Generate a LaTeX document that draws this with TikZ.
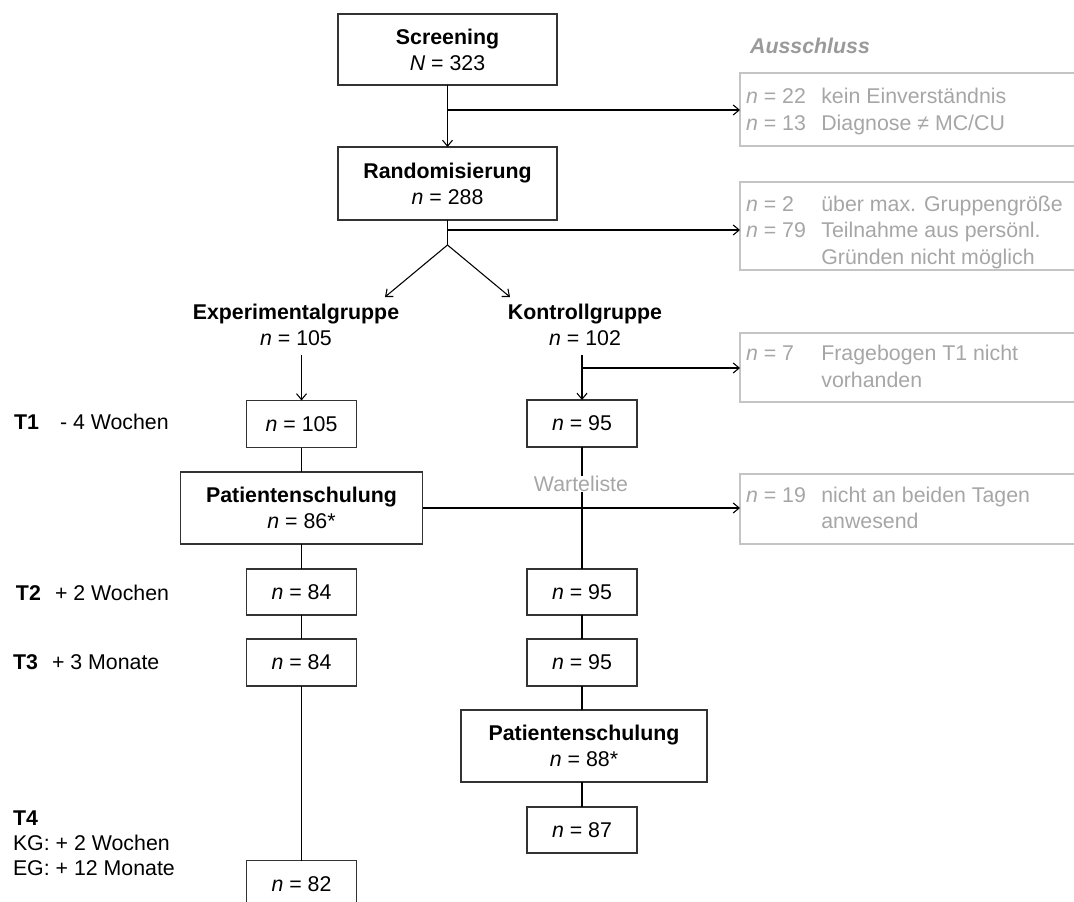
\documentclass[tikz,border=0pt]{standalone}
\usepackage{fontspec}
\setmainfont{Liberation Sans}
\usetikzlibrary{arrows.meta}
\definecolor{lgray}{HTML}{A6A6A6}
\definecolor{bgray}{HTML}{C4C4C4}
\definecolor{hgray}{HTML}{9A9A9A}
\begin{document}
\begin{tikzpicture}[x=0.75pt,y=-0.75pt,
  every node/.style={font=\fontsize{16pt}{19.5pt}\selectfont, inner sep=0pt, outer sep=0pt},
  box/.style={draw=black!80, line width=1pt, align=center, fill=white},
  xbox/.style={draw=bgray, line width=0.9pt, minimum width=255pt},
  xtext/.style={text=lgray, align=left, anchor=west, font=\fontsize{16pt}{20pt}\selectfont},
  grp/.style={align=center},
  tlab/.style={anchor=west},
  arr/.style={-{Straight Barb[length=4.5pt,width=7.5pt]}, line width=0.8pt},
  ln/.style={line width=0.8pt}]
\useasboundingbox (0,0) rectangle (1074,902);
\clip (0,0) rectangle (1074,902);

% main column boxes
\node[box, minimum width=164.25pt, minimum height=53.25pt] (scr) at (447.5,49.5) {\textbf{Screening}\\\textit{N} = 323};
\node[box, minimum width=164.25pt, minimum height=54.75pt] (rand) at (447.5,183.5) {\textbf{Randomisierung}\\\textit{n} = 288};

\node[grp] (exg) at (296,325) {\textbf{Experimentalgruppe}\\\textit{n} = 105};
\node[grp] (kg) at (585,325) {\textbf{Kontrollgruppe}\\\textit{n} = 102};

% experimental group
\node[box, minimum width=82.5pt, minimum height=35.25pt] (e1) at (301.5,424) {\textit{n} = 105};
\node[box, minimum width=181.5pt, minimum height=54pt] (p1) at (301.5,508) {\textbf{Patientenschulung}\\\textit{n} = 86*};
\node[box, minimum width=82.5pt, minimum height=34.5pt] (e2) at (301.5,592) {\textit{n} = 84};
\node[box, minimum width=82.5pt, minimum height=35.25pt] (e3) at (301.5,662.5) {\textit{n} = 84};
\node[box, minimum width=82.5pt, minimum height=35.25pt] (e4) at (301.5,884) {\textit{n} = 82};

% control group
\node[box, minimum width=82.5pt, minimum height=35.25pt] (k1) at (582,423.5) {\textit{n} = 95};
\node[text=lgray] (wl) at (581,484) {Warteliste};
\node[box, minimum width=82.5pt, minimum height=34.5pt] (k2) at (582,592) {\textit{n} = 95};
\node[box, minimum width=82.5pt, minimum height=35.25pt] (k3) at (582,662.5) {\textit{n} = 95};
\node[box, minimum width=184.5pt, minimum height=54pt] (kp) at (584,746) {\textbf{Patientenschulung}\\\textit{n} = 88*};
\node[box, minimum width=82.5pt, minimum height=34.5pt] (k4) at (582,830) {\textit{n} = 87};

% exclusions
\node[text=hgray] (aus) at (810,46) {\textbf{\textit{Ausschluss}}};
\node[xbox, minimum height=54.75pt] (x1) at (910,109.5) {};
\node[xbox, minimum height=66pt] (x2) at (910,226) {};
\node[xbox, minimum height=51.75pt] (x3) at (910,367.5) {};
\node[xbox, minimum height=52.5pt] (x4) at (910,509) {};

\node[xtext] (x1t) at (746,112) {\begin{tabular}{@{}p{56.5pt}@{}l@{}}\textit{n} = 22 & kein Einverständnis\\ \textit{n} = 13 & Diagnose ≠ MC/CU\end{tabular}};
\node[xtext] (x2t) at (746,232.5) {\begin{tabular}{@{}p{56.5pt}@{}l@{}}\textit{n} = 2 & über max. Gruppengröße\\ \textit{n} = 79 & Teilnahme aus persönl.\\ & Gründen nicht möglich\end{tabular}};
\node[xtext] (x3t) at (746,368.5) {\begin{tabular}{@{}p{56.5pt}@{}l@{}}\textit{n} = 7 & Fragebogen T1 nicht\\ & vorhanden\end{tabular}};
\node[xtext] (x4t) at (746,510) {\begin{tabular}{@{}p{56.5pt}@{}l@{}}\textit{n} = 19 & nicht an beiden Tagen\\ & anwesend\end{tabular}};

% time labels
\node[tlab] (t1a) at (14,422) {\textbf{T1}};
\node[tlab] (t1b) at (60,422) {- 4 Wochen};
\node[tlab] (t2a) at (16,593) {\textbf{T2}};
\node[tlab] (t2b) at (55,593) {+ 2 Wochen};
\node[tlab] (t3a) at (13,662) {\textbf{T3}};
\node[tlab] (t3b) at (52,662) {+ 3 Monate};
\node[tlab, align=left, font=\fontsize{16pt}{18.75pt}\selectfont] (t4) at (13,843) {\textbf{T4}\\KG: + 2 Wochen\\EG: + 12 Monate};

% connectors
\coordinate (b1) at (447.5,110);
\coordinate (b2) at (447.5,230);
\coordinate (sp) at (447.5,245);
\coordinate (ea) at (385,297);
\coordinate (ka) at (510,297);
\coordinate (es) at (301.5,355);
\coordinate (ks) at (582,355);
\coordinate (kb) at (582,368);

\draw[arr] (scr.south) -- (rand.north);
\draw[arr] (b1) -- (b1 -| x1.west);
\draw[ln] (rand.south) -- (sp);
\draw[arr] (b2) -- (b2 -| x2.west);
\draw[arr] (sp) -- (ea);
\draw[arr] (sp) -- (ka);

\draw[arr] (es) -- (e1.north);
\draw[ln] (e1.south) -- (p1.north);
\draw[ln] (p1.south) -- (e2.north);
\draw[ln] (e2.south) -- (e3.north);
\draw[ln] (e3.south) -- (e4.north);

\draw[arr] (ks) -- (k1.north);
\draw[arr] (kb) -- (kb -| x3.west);
\draw[ln] (k1.south) -- (k1.south |- wl.north);
\draw[ln] (k2.north |- wl.south) -- (k2.north);
\draw[arr] (p1.east) -- (p1.east -| x4.west);
\draw[ln] (k2.south) -- (k3.north);
\draw[ln] (k3.south) -- (kp.north -| k3.south);
\draw[ln] (kp.south -| k4.north) -- (k4.north);
\end{tikzpicture}
\end{document}
